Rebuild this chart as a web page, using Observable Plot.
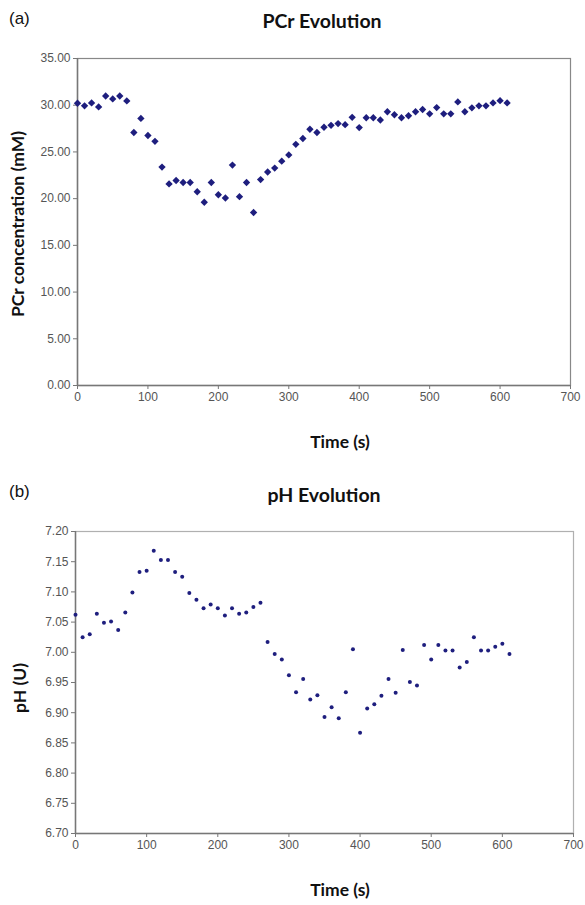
<!DOCTYPE html>
<html>
<head>
<meta charset="utf-8">
<script src="https://cdn.jsdelivr.net/npm/d3@7"></script>
<script src="https://cdn.jsdelivr.net/npm/@observablehq/plot@0.6"></script>
<style>
  body { margin: 0; background: #fff; }
  #wrap { position: relative; width: 585px; height: 905px; overflow: hidden; }
  .panel { position: absolute; left: 9px; font: 17px "Liberation Sans", Arial, sans-serif; color: #111; }
  .title { position: absolute; font: bold 19.5px Lato, "Open Sans", sans-serif; color: #111; transform: translateX(-50%); white-space: nowrap; }
  .chart { position: absolute; left: 0; }
</style>
</head>
<body>
<div id="wrap">
  <div class="panel" style="top:9px">(a)</div>
  <div class="title" style="left:322px; top:9px">PCr Evolution</div>
  <div class="chart" id="chartA" style="top:40px"></div>
  <div class="panel" style="top:482px">(b)</div>
  <div class="title" style="left:324px; top:483px">pH Evolution</div>
  <div class="chart" id="chartB" style="top:510px"></div>
</div>
<script>
// Time (s), sampled every 10 s
const timePCr = d3.range(0, 620, 10);
const pcr = [
  30.21, 29.93, 30.25, 29.82, 30.99, 30.67, 30.99, 30.46, 27.08, 28.59,
  26.76, 26.13, 23.38, 21.58, 21.94, 21.73, 21.73, 20.74, 19.61, 21.73,
  20.42, 20.07, 23.59, 20.21, 21.73, 18.52, 22.04, 22.85, 23.27, 24.01,
  24.68, 25.81, 26.44, 27.43, 27.08, 27.64, 27.85, 28.03, 27.92, 28.70,
  27.61, 28.66, 28.66, 28.42, 29.30, 28.98, 28.66, 28.87, 29.30, 29.54,
  29.08, 29.75, 29.08, 29.08, 30.35, 29.30, 29.72, 29.93, 29.93, 30.25,
  30.49, 30.25
];
const timePH = d3.range(0, 620, 10);
const ph = [
  7.062, 7.025, 7.030, 7.064, 7.049, 7.051, 7.037, 7.066, 7.099, 7.133,
  7.135, 7.168, 7.153, 7.153, 7.133, 7.125, 7.098, 7.087, 7.073, 7.079,
  7.073, 7.061, 7.073, 7.064, 7.066, 7.075, 7.082, 7.017, 6.997, 6.988,
  6.962, 6.934, 6.956, 6.922, 6.929, 6.893, 6.909, 6.891, 6.934, 7.005,
  6.867, 6.907, 6.914, 6.928, 6.956, 6.933, 7.004, 6.951, 6.945, 7.012,
  6.988, 7.012, 7.003, 7.003, 6.975, 6.984, 7.025, 7.003, 7.003, 7.009,
  7.014, 6.997
];
const xTicks = [0, 100, 200, 300, 400, 500, 600, 700];
const pcrTicks = [0, 5, 10, 15, 20, 25, 30, 35];
const phTicks = [6.70, 6.75, 6.80, 6.85, 6.90, 6.95, 7.00, 7.05, 7.10, 7.15, 7.20];

const dataA = timePCr.map((t, i) => ({t, v: pcr[i]}));
const dataB = timePH.map((t, i) => ({t, v: ph[i]}));

const navy = "#1e1e7e";
const tickFont = {fontFamily: "'Liberation Sans', Arial, sans-serif", fontSize: "12px", color: "#555"};
const labelFont = "'Lato', 'Open Sans', sans-serif";

function makeChart({data, yDomain, yTicks, yFormat, height, mt, mb, ml, mr, frameColor, dotMark}) {
  return Plot.plot({
    width: 585,
    height,
    marginTop: mt, marginBottom: mb, marginLeft: ml, marginRight: mr,
    style: {...tickFont, background: "white", overflow: "visible"},
    x: {domain: [0, 700]},
    y: {domain: yDomain},
    marks: [
      Plot.frame({stroke: frameColor, strokeWidth: 1.2}),
      Plot.ruleX([0], {stroke: "#777", strokeWidth: 1.5}),
      Plot.ruleY([yDomain[0]], {stroke: "#777", strokeWidth: 1.5}),
      Plot.axisX({ticks: xTicks, tickSize: 4, tickPadding: 3, stroke: "#777", fill: "#555", label: null}),
      Plot.axisY({ticks: yTicks, tickSize: 4, tickPadding: 3, tickFormat: yFormat, stroke: "#777", fill: "#555", label: null}),
      dotMark(data)
    ]
  });
}

const chartA = makeChart({
  data: dataA, yDomain: [0, 35], yTicks: pcrTicks, yFormat: d3.format(".2f"),
  height: 420, mt: 18, mb: 75, ml: 77, mr: 15, frameColor: "#888",
  dotMark: d => Plot.dot(d, {x: "t", y: "v", symbol: "diamond2", r: 3.3, fill: navy, stroke: "none"})
});
const chartB = makeChart({
  data: dataB, yDomain: [6.70, 7.20], yTicks: phTicks, yFormat: d3.format(".2f"),
  height: 395, mt: 21, mb: 72, ml: 75, mr: 12, frameColor: "#b0b0b0",
  dotMark: d => Plot.dot(d, {x: "t", y: "v", r: 2, fill: navy, stroke: "none"})
});

function addLabels(svg, xLabel, yLabel, xY, yX, yCenter) {
  const s = d3.select(svg);
  s.append("text").attr("x", 340).attr("y", xY).attr("text-anchor", "middle")
    .attr("font-family", labelFont).attr("font-weight", "bold").attr("font-size", 17.5).attr("fill", "#111")
    .text(xLabel);
  s.append("text").attr("transform", `translate(${yX},${yCenter}) rotate(-90)`).attr("text-anchor", "middle")
    .attr("font-family", labelFont).attr("font-weight", "bold").attr("font-size", 17.5).attr("fill", "#111")
    .text(yLabel);
}
addLabels(chartA, "Time (s)", "PCr concentration (mM)", 408, 24, 184);
addLabels(chartB, "Time (s)", "pH (U)", 386, 26, 178);

document.getElementById("chartA").appendChild(chartA);
document.getElementById("chartB").appendChild(chartB);
</script>
</body>
</html>
